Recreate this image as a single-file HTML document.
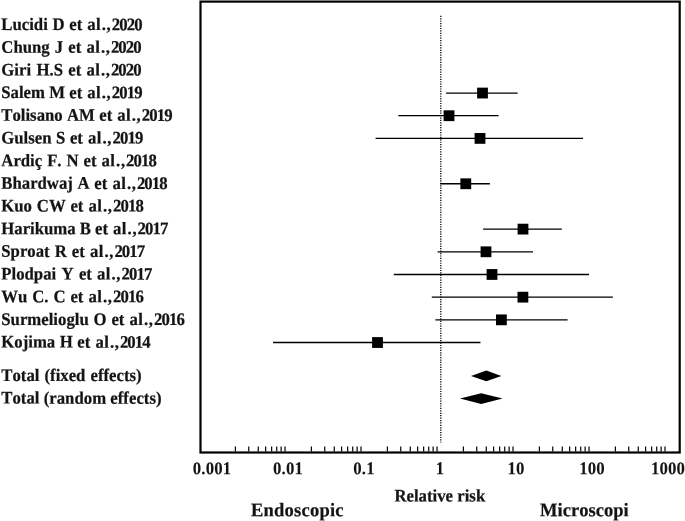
<!DOCTYPE html>
<html><head><meta charset="utf-8"><title>Forest plot</title>
<style>
html,body{margin:0;padding:0;background:#fff;}
body{width:685px;height:521px;overflow:hidden;position:relative;font-family:"Liberation Serif","Times New Roman",serif;}
svg{position:absolute;left:0;top:0;display:block;filter:blur(0.3px);}
text{font-family:"Liberation Serif","Times New Roman",serif;font-weight:bold;font-kerning:none;fill:#141414;stroke:#141414;stroke-width:0.22px;}
.lab{font-size:16.75px;}
.ax{font-size:16.8px;text-anchor:middle;letter-spacing:0.15px;stroke-width:0.08px;}
.big{font-size:18.5px;}
</style></head><body>
<svg width="685" height="521" viewBox="0 0 685 521">
<rect x="0" y="0" width="685" height="521" fill="#fff"/>
<rect x="200.5" y="1.6" width="479.2" height="450.9" fill="none" stroke="#000" stroke-width="2.2"/>
<line x1="440.8" y1="15.8" x2="440.8" y2="442.4" stroke="#000" stroke-width="1.3" stroke-dasharray="1.2 1.22"/>
<path d="M235.38 446.6V451.6M248.76 446.6V451.6M258.26 446.6V451.6M265.62 446.6V451.6M271.64 446.6V451.6M276.73 446.6V451.6M281.13 446.6V451.6M285.02 446.6V451.6M311.38 446.6V451.6M324.76 446.6V451.6M334.26 446.6V451.6M341.62 446.6V451.6M347.64 446.6V451.6M352.73 446.6V451.6M357.13 446.6V451.6M361.02 446.6V451.6M387.38 446.6V451.6M400.76 446.6V451.6M410.26 446.6V451.6M417.62 446.6V451.6M423.64 446.6V451.6M428.73 446.6V451.6M433.13 446.6V451.6M437.02 446.6V451.6M463.38 446.6V451.6M476.76 446.6V451.6M486.26 446.6V451.6M493.62 446.6V451.6M499.64 446.6V451.6M504.73 446.6V451.6M509.13 446.6V451.6M513.02 446.6V451.6M539.38 446.6V451.6M552.76 446.6V451.6M562.26 446.6V451.6M569.62 446.6V451.6M575.64 446.6V451.6M580.73 446.6V451.6M585.13 446.6V451.6M589.02 446.6V451.6M615.38 446.6V451.6M628.76 446.6V451.6M638.26 446.6V451.6M645.62 446.6V451.6M651.64 446.6V451.6M656.73 446.6V451.6M661.13 446.6V451.6M665.02 446.6V451.6" stroke="#000" stroke-width="1.2" fill="none"/>
<text class="ax" transform="translate(212.0 474.2) rotate(0.04) scale(1 1.075)">0.001</text>
<text class="ax" transform="translate(288.0 474.2) rotate(0.04) scale(1 1.075)">0.01</text>
<text class="ax" transform="translate(364.0 474.2) rotate(0.04) scale(1 1.075)">0.1</text>
<text class="ax" transform="translate(440.0 474.2) rotate(0.04) scale(1 1.075)">1</text>
<text class="ax" transform="translate(516.0 474.2) rotate(0.04) scale(1 1.075)">10</text>
<text class="ax" transform="translate(592.0 474.2) rotate(0.04) scale(1 1.075)">100</text>
<text class="ax" transform="translate(668.0 474.2) rotate(0.04) scale(1 1.075)">1000</text>
<text class="lab" transform="translate(0 30.05) rotate(0.04) scale(1 1.055)"><tspan x="1.3" style="word-spacing:0.49px">Lucidi D et </tspan><tspan x="87.3" style="letter-spacing:0.4px">al</tspan><tspan x="101.8">.</tspan><tspan x="106.6">,</tspan><tspan x="111.8" style="letter-spacing:-0.9px">2020</tspan></text>
<text class="lab" transform="translate(0 52.73) rotate(0.04) scale(1 1.055)"><tspan x="1.3" style="word-spacing:0.97px">Chung J et </tspan><tspan x="86.4" style="letter-spacing:0.4px">al</tspan><tspan x="100.9">.</tspan><tspan x="105.7">,</tspan><tspan x="110.9" style="letter-spacing:-0.9px">2020</tspan></text>
<text class="lab" transform="translate(0 75.41) rotate(0.04) scale(1 1.055)"><tspan x="1.3" style="word-spacing:1.21px">Giri H.S et </tspan><tspan x="86.4" style="letter-spacing:0.4px">al</tspan><tspan x="100.9">.</tspan><tspan x="105.7">,</tspan><tspan x="110.9" style="letter-spacing:-0.9px">2020</tspan></text>
<text class="lab" transform="translate(0 98.09) rotate(0.04) scale(1 1.055)"><tspan x="1.3" style="word-spacing:0.04px">Salem M et </tspan><tspan x="87.3" style="letter-spacing:0.4px">al</tspan><tspan x="101.8">.</tspan><tspan x="106.6">,</tspan><tspan x="111.8" style="letter-spacing:-0.9px">2019</tspan></text>
<text class="lab" transform="translate(0 120.77) rotate(0.04) scale(1 1.055)"><tspan x="1.3" style="word-spacing:0.14px">Tolisano AM et </tspan><tspan x="117.3" style="letter-spacing:0.4px">al</tspan><tspan x="131.8">.</tspan><tspan x="136.6">,</tspan><tspan x="141.8" style="letter-spacing:-0.9px">2019</tspan></text>
<text class="lab" transform="translate(0 143.45) rotate(0.04) scale(1 1.055)"><tspan x="1.3" style="word-spacing:0.37px">Gulsen S et </tspan><tspan x="88.0" style="letter-spacing:0.4px">al</tspan><tspan x="102.5">.</tspan><tspan x="107.3">,</tspan><tspan x="112.5" style="letter-spacing:-0.9px">2019</tspan></text>
<text class="lab" transform="translate(0 166.13) rotate(0.04) scale(1 1.055)"><tspan x="1.3" style="word-spacing:0.76px">Ardiç F. N et </tspan><tspan x="101.6" style="letter-spacing:0.4px">al</tspan><tspan x="116.1">.</tspan><tspan x="120.9">,</tspan><tspan x="126.1" style="letter-spacing:-0.9px">2018</tspan></text>
<text class="lab" transform="translate(0 188.81) rotate(0.04) scale(1 1.055)"><tspan x="1.3" style="word-spacing:0.48px">Bhardwaj A et </tspan><tspan x="112.4" style="letter-spacing:0.4px">al</tspan><tspan x="126.9">.</tspan><tspan x="131.7">,</tspan><tspan x="136.9" style="letter-spacing:-0.9px">2018</tspan></text>
<text class="lab" transform="translate(0 211.49) rotate(0.04) scale(1 1.055)"><tspan x="1.3" style="word-spacing:0.63px">Kuo CW et </tspan><tspan x="88.5" style="letter-spacing:0.4px">al</tspan><tspan x="103.0">.</tspan><tspan x="107.8">,</tspan><tspan x="113.0" style="letter-spacing:-0.9px">2018</tspan></text>
<text class="lab" transform="translate(0 234.17) rotate(0.04) scale(1 1.055)"><tspan x="1.3" style="word-spacing:-0.10px">Harikuma B et </tspan><tspan x="113.1" style="letter-spacing:0.4px">al</tspan><tspan x="127.6">.</tspan><tspan x="132.4">,</tspan><tspan x="137.6" style="letter-spacing:-0.9px">2017</tspan></text>
<text class="lab" transform="translate(0 256.85) rotate(0.04) scale(1 1.055)"><tspan x="1.3" style="word-spacing:0.87px">Sproat R et </tspan><tspan x="89.9" style="letter-spacing:0.4px">al</tspan><tspan x="104.4">.</tspan><tspan x="109.2">,</tspan><tspan x="114.4" style="letter-spacing:-0.9px">2017</tspan></text>
<text class="lab" transform="translate(0 279.53) rotate(0.04) scale(1 1.055)"><tspan x="1.3" style="word-spacing:1.15px">Plodpai Y et </tspan><tspan x="97.0" style="letter-spacing:0.4px">al</tspan><tspan x="111.5">.</tspan><tspan x="116.3">,</tspan><tspan x="121.5" style="letter-spacing:-0.9px">2017</tspan></text>
<text class="lab" transform="translate(0 302.21) rotate(0.04) scale(1 1.055)"><tspan x="1.3" style="word-spacing:0.73px">Wu C. C et </tspan><tspan x="88.5" style="letter-spacing:0.4px">al</tspan><tspan x="103.0">.</tspan><tspan x="107.8">,</tspan><tspan x="113.0" style="letter-spacing:-0.9px">2016</tspan></text>
<text class="lab" transform="translate(0 324.89) rotate(0.04) scale(1 1.055)"><tspan x="1.3" style="word-spacing:0.66px">Surmelioglu O et </tspan><tspan x="129.5" style="letter-spacing:0.4px">al</tspan><tspan x="144.0">.</tspan><tspan x="148.8">,</tspan><tspan x="154.0" style="letter-spacing:-0.9px">2016</tspan></text>
<text class="lab" transform="translate(0 347.57) rotate(0.04) scale(1 1.055)"><tspan x="1.3" style="word-spacing:0.37px">Kojima H et </tspan><tspan x="95.4" style="letter-spacing:0.4px">al</tspan><tspan x="109.9">.</tspan><tspan x="114.7">,</tspan><tspan x="119.9" style="letter-spacing:-0.9px">2014</tspan></text>
<text class="lab" transform="translate(1.3 380.9) rotate(0.04) scale(1 1.055)" textLength="140.3" lengthAdjust="spacing" style="word-spacing:0.85px">Total (fixed effects)</text>
<text class="lab" transform="translate(1.3 403.6) rotate(0.04) scale(1 1.055)" textLength="160.2" lengthAdjust="spacing" style="word-spacing:0.10px">Total (random effects)</text>
<line x1="446.1" y1="93.04" x2="517.6" y2="93.04" stroke="#000" stroke-width="1.3"/>
<rect x="477.1" y="87.64" width="10.8" height="10.8" fill="#000"/>
<line x1="398.3" y1="115.72" x2="498.6" y2="115.72" stroke="#000" stroke-width="1.3"/>
<rect x="443.6" y="110.32" width="10.8" height="10.8" fill="#000"/>
<line x1="375.6" y1="138.40" x2="583.1" y2="138.40" stroke="#000" stroke-width="1.3"/>
<rect x="474.6" y="133.00" width="10.8" height="10.8" fill="#000"/>
<line x1="440.2" y1="183.76" x2="489.9" y2="183.76" stroke="#000" stroke-width="1.3"/>
<rect x="460.4" y="178.36" width="10.8" height="10.8" fill="#000"/>
<line x1="483.1" y1="229.12" x2="561.8" y2="229.12" stroke="#000" stroke-width="1.3"/>
<rect x="517.6" y="223.72" width="10.8" height="10.8" fill="#000"/>
<line x1="437.6" y1="251.80" x2="533.0" y2="251.80" stroke="#000" stroke-width="1.3"/>
<rect x="480.6" y="246.40" width="10.8" height="10.8" fill="#000"/>
<line x1="393.8" y1="274.48" x2="589.0" y2="274.48" stroke="#000" stroke-width="1.3"/>
<rect x="486.6" y="269.08" width="10.8" height="10.8" fill="#000"/>
<line x1="431.8" y1="297.16" x2="612.9" y2="297.16" stroke="#000" stroke-width="1.3"/>
<rect x="517.5" y="291.76" width="10.8" height="10.8" fill="#000"/>
<line x1="435.4" y1="319.84" x2="567.6" y2="319.84" stroke="#000" stroke-width="1.3"/>
<rect x="496.0" y="314.44" width="10.8" height="10.8" fill="#000"/>
<line x1="273.1" y1="342.52" x2="480.5" y2="342.52" stroke="#000" stroke-width="1.3"/>
<rect x="372.1" y="337.12" width="10.8" height="10.8" fill="#000"/>
<polygon points="471.0,375.9 486.3,370.5 501.4,375.9 486.3,381.3" fill="#000"/>
<polygon points="460.0,398.6 481.2,393.2 502.6,398.6 481.2,404.0" fill="#000"/>
<text class="lab" transform="translate(394.4 501.5) rotate(0.04) scale(1 1.055)" textLength="90.8" lengthAdjust="spacing" style="word-spacing:0.09px">Relative risk</text>
<text class="big" transform="translate(250.9 516.2) rotate(0.04) scale(1 1.04)" textLength="92.6" lengthAdjust="spacing">Endoscopic</text>
<text class="big" transform="translate(540.1 516.2) rotate(0.04) scale(1 1.04)" textLength="88.6" lengthAdjust="spacing">Microscopi</text>
</svg>
</body></html>
